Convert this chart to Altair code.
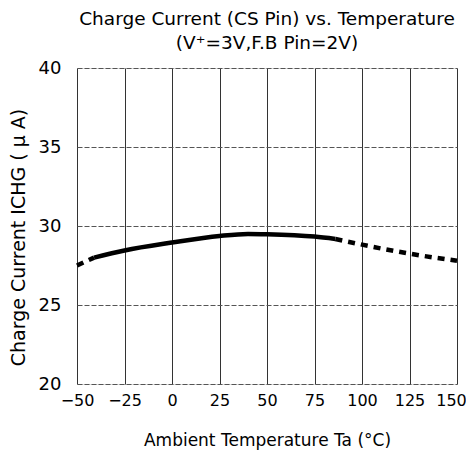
import altair as alt
import pandas as pd

# Solid (measured) part of the curve
solid_temp = [-41, -25, 0, 25, 40, 50, 75, 86]
solid_cur = [28.0, 28.45, 28.95, 29.37, 29.5, 29.48, 29.33, 29.18]

# Dashed (extrapolated) parts
left_temp = [-50, -41]
left_cur = [27.5, 28.0]
right_temp = [86, 100, 125, 150]
right_cur = [29.18, 28.82, 28.25, 27.8]

x_ticks = [-50, -25, 0, 25, 50, 75, 100, 125, 150]
y_ticks = [20, 25, 30, 35, 40]

df_solid = pd.DataFrame({"t": solid_temp, "i": solid_cur})
df_dash = pd.DataFrame({
    "t": left_temp + right_temp,
    "i": left_cur + right_cur,
    "seg": ["L"] * len(left_temp) + ["R"] * len(right_temp),
})

FONT = "DejaVu Sans"

xenc = alt.X("t:Q", scale=alt.Scale(domain=[-50, 150], nice=False),
             axis=alt.Axis(values=x_ticks, title="Ambient Temperature  Ta  (°C)",
                           grid=True, gridColor="#333", gridWidth=1,
                           ticks=False, domain=False, labelPadding=8,
                           labelOverlap=False, labelFlush=False, labelBound=False,
                           labelOffset={"condition": {"test": "datum.value == 150", "value": -6},
                                        "value": 0},
                           labelFontSize=16, labelFont=FONT, labelColor="black",
                           titleFontSize=17, titleFont=FONT, titleFontWeight="normal",
                           titleColor="black", titleY=56, titleBaseline="middle"))
yenc = alt.Y("i:Q", scale=alt.Scale(domain=[20, 40], nice=False),
             axis=alt.Axis(values=y_ticks, title="Charge Current  ICHG  ( μ A)",
                           grid=True, gridColor="#555", gridWidth=1, gridDash=[5, 2],
                           ticks=False, domain=False, labelPadding=16,
                           labelOverlap=False, labelFlush=False, labelBound=False,
                           labelFontSize=18, labelFont=FONT, labelColor="black",
                           titleFontSize=19, titleFont=FONT, titleFontWeight="normal",
                           titleColor="black", titleX=-59, titleY=169,
                           titleBaseline="middle", titleAngle=270))

solid = alt.Chart(df_solid).mark_line(color="black", strokeWidth=4.5,
                                       interpolate="monotone").encode(x=xenc, y=yenc)
dashed = alt.Chart(df_dash).mark_line(color="black", strokeWidth=4.5,
                                       strokeDash=[7, 6],
                                       interpolate="monotone").encode(
    x=alt.X("t:Q"), y=alt.Y("i:Q"), detail="seg:N")

chart = alt.layer(solid, dashed).properties(
    width=380, height=316,
    title=alt.TitleParams(
        ["Charge Current (CS Pin) vs. Temperature", "(V⁺=3V,F.B Pin=2V)"],
        fontSize=18.5, font=FONT, fontWeight="normal", color="black",
        anchor="middle", frame="group", offset=7, lineHeight=24),
    autosize=alt.AutoSizeParams(type="none"),
    padding={"left": 69, "top": 60, "right": 9, "bottom": 66},
).configure_view(stroke="black", strokeWidth=2.5).configure(background="white")

chart.save("out.html", embed_options={"renderer": "svg", "actions": False})
